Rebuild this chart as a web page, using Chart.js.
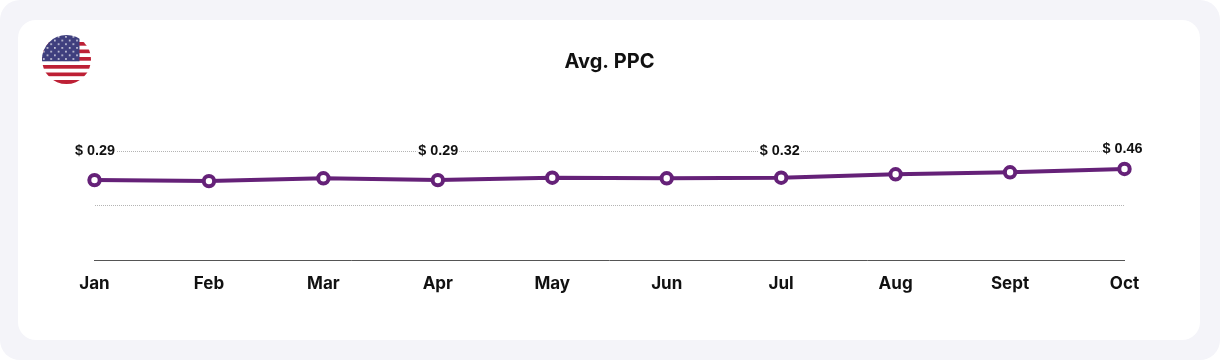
<!DOCTYPE html>
<html><head><meta charset="utf-8">
<style>
html,body{margin:0;padding:0;background:#fff;width:1220px;height:360px;overflow:hidden}
#outer{position:absolute;left:0;top:0;width:1220px;height:360px;background:#f4f4f9;border-radius:20px}
#card{position:absolute;left:18px;top:20px;width:1182px;height:320px;background:#fff;border-radius:18px}
#flag{position:absolute;left:42px;top:35px}
canvas{position:absolute;left:0;top:0}
</style></head><body>
<div id="outer"></div><div id="card"></div>
<svg id="flag" width="49" height="49" viewBox="0 0 49 49">
<defs><clipPath id="c"><circle cx="24.5" cy="24.5" r="24.5"/></clipPath>
<pattern id="st" width="7.4" height="7.4" patternUnits="userSpaceOnUse"><rect width="7.4" height="7.4" fill="#3f3f7e"/><circle cx="1.8" cy="1.8" r="0.8" fill="#fff"/><circle cx="5.5" cy="5.5" r="0.8" fill="#fff"/></pattern></defs>
<g clip-path="url(#c)"><rect width="49" height="49" fill="#fff"/>
<rect y="7" width="49" height="3.7" fill="#bd2035"/><rect y="14.5" width="49" height="3.7" fill="#bd2035"/><rect y="22" width="49" height="3.7" fill="#bd2035"/><rect y="30" width="49" height="3.7" fill="#bd2035"/><rect y="37.5" width="49" height="3.7" fill="#bd2035"/><rect y="45" width="49" height="4" fill="#bd2035"/>
<rect width="37.5" height="26.3" fill="url(#st)"/></g></svg>
<canvas id="chart" width="1220" height="360"></canvas>
<script src="https://cdn.jsdelivr.net/npm/chart.js@4/dist/chart.umd.js"></script>
<script>
const categories=["Jan","Feb","Mar","Apr","May","Jun","Jul","Aug","Sept","Oct"];
const ppcValues=[0.404,0.399,0.413,0.404,0.416,0.413,0.416,0.433,0.443,0.46];
const valueLabels=["$ 0.29","","","$ 0.29","","","$ 0.32","","","$ 0.46"];
const yTicks=[0,0.275,0.55];
const titleText="Avg. PPC";
const uiFont="Inter, 'Open Sans', sans-serif";

const labelPlugin={id:"fixedLabels",afterDatasetsDraw(chart){
  const {ctx,scales:{x,y}}=chart;
  const last=valueLabels.length-1;
  ctx.save();
  ctx.font="bold 14.4px 'Liberation Sans', Arial, sans-serif";
  ctx.textAlign="center";ctx.textBaseline="middle";
  valueLabels.forEach((t,i)=>{
    if(!t)return;
    const nudge=i===last?-2:(i===6?-1.5:0.5);
    const cx=x.getPixelForValue(i)+nudge, cy=y.getPixelForValue(0.55)-(i===last?2:0);
    const w=ctx.measureText(t).width;
    ctx.fillStyle="#fff";ctx.fillRect(cx-w/2-1,cy-8,w+2,16);
    ctx.fillStyle="#111";ctx.fillText(t,cx,cy);
  });
  ctx.restore();
}};

new Chart(document.getElementById("chart"),{
  type:"line",
  data:{labels:categories,datasets:[{data:ppcValues,borderColor:"#652178",borderWidth:4,tension:0,
    pointRadius:5.2,pointHoverRadius:5.2,pointBorderWidth:4,pointBackgroundColor:"#fff",pointBorderColor:"#652178",clip:false}]},
  options:{responsive:false,animation:false,
    layout:{padding:{left:94.5,right:95.5,top:0,bottom:60}},
    plugins:{legend:{display:false},tooltip:{enabled:false},
      title:{display:true,text:titleText,color:"#111",font:{family:uiFont,size:20,weight:"700"},padding:{top:50,bottom:77}}},
    scales:{
      x:{offset:false,grid:{display:false},border:{display:true,color:"#555",width:1},
        ticks:{color:"#111",font:{family:uiFont,size:17,weight:"700"},padding:5.5,maxRotation:0,autoSkip:false}},
      y:{min:0,max:0.55,afterBuildTicks(s){s.ticks=yTicks.map(v=>({value:v}))},
        ticks:{display:false},border:{display:false,dash:[1,1]},
        grid:{drawTicks:false,color:c=>c.tick.value===0?"rgba(0,0,0,0)":"#b4b4b4",lineWidth:1}}
    }},
  plugins:[labelPlugin]
});
</script></body></html>
